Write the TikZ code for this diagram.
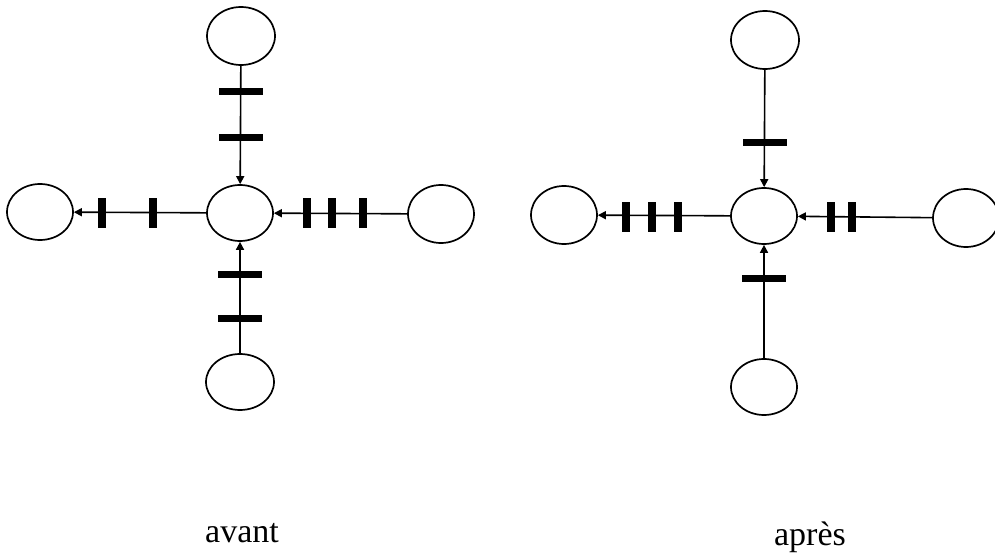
\documentclass[tikz,border=0pt]{standalone}
\usepackage{fontspec}
\setmainfont{Liberation Serif}
\usetikzlibrary{shapes.geometric,arrows.meta}
\begin{document}
\begin{tikzpicture}[x=1pt,y=-1pt,
  place/.style={draw,ellipse,line width=1.7pt,inner sep=0pt,minimum width=66pt,minimum height=56pt},
  conn/.style={line width=1.6pt},
  arr/.style={conn,-{Triangle[length=8pt,width=8pt]}},
  hbar/.style={fill=black,draw=none,inner sep=0pt,minimum width=44pt,minimum height=7pt},
  vbar/.style={fill=black,draw=none,inner sep=0pt,minimum width=8pt,minimum height=30pt},
  lab/.style={anchor=base,inner sep=0pt,font=\fontsize{34}{40}\selectfont}]
\useasboundingbox (0,0) rectangle (995,553);
% ---- avant ----
\node[place,minimum width=68pt,minimum height=58pt] (aT) at (241,36) {};
\node[place] (aC) at (240,213) {};
\node[place] (aL) at (40,212) {};
\node[place,minimum height=58pt] (aR) at (441,214) {};
\node[place,minimum width=68pt] (aB) at (240,382) {};
\draw[arr] (aT) -- (aC);
\draw[arr] (aC) -- (aL);
\draw[arr] (aR) -- (aC);
\draw[arr] (aB) -- (aC);
\node[hbar] (at1) at (240.5,92) {};
\node[hbar] (at2) at (240.5,138) {};
\node[hbar] (ab1) at (240,274) {};
\node[hbar] (ab2) at (240,318) {};
\node[vbar] (al1) at (102,213) {};
\node[vbar] (al2) at (153,213) {};
\node[vbar] (ar1) at (307,213) {};
\node[vbar] (ar2) at (332,213) {};
\node[vbar] (ar3) at (363,213) {};
\node[lab] (avant) at (242,542) {avant};
% ---- apres ----
\node[place,minimum width=68pt,minimum height=58pt] (pT) at (765,40) {};
\node[place] (pC) at (764,216) {};
\node[place,minimum height=58pt] (pL) at (564,215) {};
\node[place,minimum height=58pt] (pR) at (966,218) {};
\node[place] (pB) at (764,387) {};
\draw[arr] (pT) -- (pC);
\draw[arr] (pC) -- (pL);
\draw[arr] (pR) -- (pC);
\draw[arr] (pB) -- (pC);
\node[hbar] (pt1) at (764.5,143) {};
\node[hbar] (pb1) at (763.5,278) {};
\node[vbar] (pl1) at (626,217) {};
\node[vbar] (pl2) at (652,217) {};
\node[vbar] (pl3) at (678,217) {};
\node[vbar] (pr1) at (831,217) {};
\node[vbar] (pr2) at (852,217) {};
\node[lab] (apres) at (810,545) {après};
\end{tikzpicture}
\end{document}
